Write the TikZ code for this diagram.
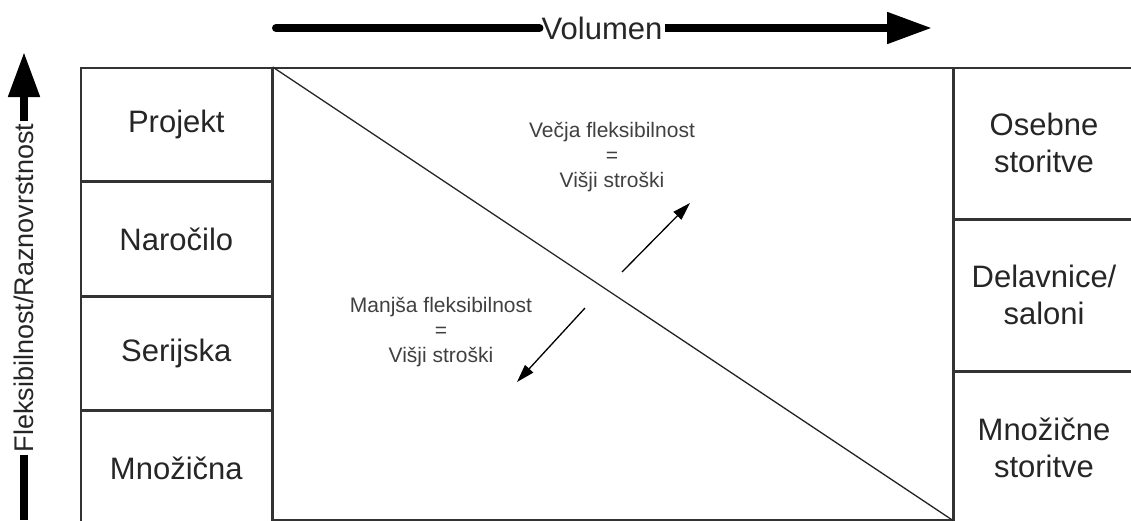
\documentclass[tikz,border=0pt]{standalone}
\usepackage{fontspec}
\setmainfont{Liberation Sans}
\usetikzlibrary{arrows.meta, positioning}

\tikzset{
    lbox/.style={draw=black!80, line width=1.6pt, inner sep=0pt, minimum width=191pt, minimum height=113pt, font=\fontsize{31}{37}\selectfont, text=black!85},
    rbox/.style={lbox, minimum width=180pt, minimum height=150.67pt, align=center},
    mbox/.style={draw=black!80, line width=1.6pt, inner sep=0pt, minimum width=679pt, minimum height=452pt},
    axislabel/.style={fill=white, inner sep=2pt, text=black!85},
    axis/.style={line width=8pt},
    note/.style={align=center, font=\fontsize{21}{25}\selectfont, text=black!75},
    smallarrow/.style={line width=1.3pt, -{Triangle[length=18pt, width=11pt]}}
}

\begin{document}
\begin{tikzpicture}[x=1pt, y=-1pt]
    \useasboundingbox (0,0) rectangle (1131,520);

    % Cột trái
    \node[lbox, anchor=north west] (projekt) at (80,67) {Projekt};
    \node[lbox, below=0pt of projekt] (narocilo) {Naročilo};
    \node[lbox, below=0pt of narocilo] (serijska) {Serijska};
    \node[lbox, below=0pt of serijska] (mnozicna) {Množična};

    % Ô giữa và đường chéo
    \node[mbox, anchor=north west] (sredina) at (projekt.north east) {};
    \draw[black!85, line width=1.3pt] (sredina.north west) -- (sredina.south east);

    % Cột phải
    \node[rbox, anchor=north west] (osebne) at (sredina.north east) {Osebne\\storitve};
    \node[rbox, below=0pt of osebne] (delavnice) {Delavnice/\\saloni};
    \node[rbox, below=0pt of delavnice] (mnozicne) {Množične\\storitve};

    % Trục ngang
    \node[axislabel, font=\fontsize{31}{37}\selectfont] (volumen) at (602,28) {Volumen};
    \coordinate (vol start) at (276,28);
    \coordinate (vol end) at (932,28);
    \draw[axis, line cap=round] (volumen.west) -- (vol start);
    \draw[axis, -{Triangle[length=45pt, width=30pt]}] (volumen.east) -- (vol end);

    % Trục dọc
    \node[axislabel, font=\fontsize{27}{32}\selectfont, rotate=90] (fleks) at (24,288) {Fleksibilnost/Raznovrstnost};
    \coordinate (fleks start) at (24,520);
    \coordinate (fleks end) at (24,52);
    \draw[axis] (fleks.west) -- (fleks start);
    \draw[axis, -{Triangle[length=45pt, width=30pt]}] (fleks.east) -- (fleks end);

    % Chú thích
    \node[note] (vecja) at (612,157) {Večja fleksibilnost\\=\\Višji stroški};
    \node[note] (manjsa) at (441,332) {Manjša fleksibilnost\\=\\Višji stroški};

    \coordinate (gor od) at (622,272);
    \coordinate (gor do) at (690,203);
    \coordinate (dol od) at (585,308);
    \coordinate (dol do) at (517,382);
    \draw[smallarrow] (gor od) -- (gor do);
    \draw[smallarrow] (dol od) -- (dol do);
\end{tikzpicture}
\end{document}
